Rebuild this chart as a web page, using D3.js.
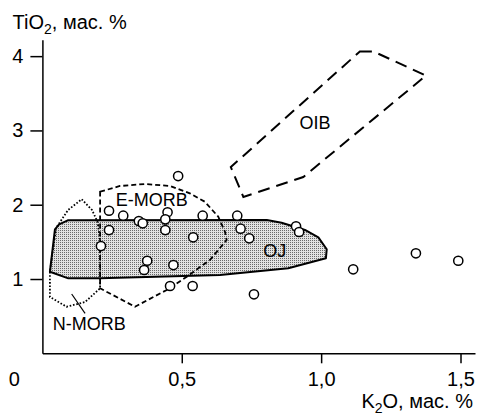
<!DOCTYPE html>
<html><head><meta charset="utf-8">
<script src="https://cdn.jsdelivr.net/npm/d3@7"></script>
<style>body{margin:0;background:#fff}svg{display:block}text{font-family:"Liberation Sans",Arial,sans-serif;fill:#000}</style>
</head><body><svg id="c" width="477" height="417"></svg>
<script>
// Sample points: K2O (x), TiO2 (y), wt.%
const pointsK2O = [0.487,0.239,0.290,0.346,0.360,0.449,0.441,0.441,0.575,0.239,0.210,0.541,0.376,0.365,0.470,0.458,0.539,0.699,0.711,0.742,0.910,0.921,1.115,1.340,1.492,0.759];
const pointsTiO2 = [2.386,1.919,1.852,1.781,1.750,1.898,1.803,1.659,1.852,1.659,1.444,1.561,1.246,1.121,1.188,0.906,0.906,1.852,1.677,1.548,1.709,1.633,1.131,1.346,1.246,0.794];

// Field outlines
const ojK2O  = [0.091,0.805,0.858,0.942,0.990,1.020,1.017,0.882,0.637,0.207,0.093,0.027,0.045,0.060];
const ojTiO2 = [1.790,1.794,1.758,1.660,1.561,1.400,1.279,1.144,1.054,1.009,1.009,1.098,1.669,1.735];
const emorbK2O  = [0.207,0.278,0.368,0.458,0.529,0.583,0.631,0.655,0.661,0.601,0.518,0.446,0.332,0.207];
const emorbTiO2 = [2.175,2.252,2.279,2.252,2.153,2.040,1.838,1.637,1.525,1.256,1.031,0.852,0.627,0.875];
const nmorbK2O  = [0.141,0.178,0.198,0.207,0.207,0.153,0.087,0.027,0.027,0.049,0.092];
const nmorbTiO2 = [2.073,1.929,1.767,1.525,0.875,0.690,0.627,0.758,1.094,1.686,1.929];
const oibK2O  = [1.139,1.187,1.376,0.936,0.721,0.676];
const oibTiO2 = [4.064,4.064,3.738,2.373,2.105,2.507];

// Field labels
const fieldNames = ["OIB","OJ","E-MORB","N-MORB"];
const fieldLabelK2O = [0.978,0.834,0.392,0.168];
const fieldLabelTiO2 = [3.096,1.377,2.063,0.392];
const leaderK2O = [0.105,0.153];
const leaderTiO2 = [0.798,0.538];

const xTicks = [0.5,1.0,1.5];
const yTicks = [1,2,3,4];
const xTitle = ["K","2","O, мас. %"];
const yTitle = ["TiO","2",", мас. %"];
const originLabel = "0";

const svg = d3.select("#c");
const x = d3.scaleLinear().domain([0,1.552]).range([42.4,475]);
const y = d3.scaleLinear().domain([0,4.22]).range([353.3,39.8]);

const defs = svg.append("defs");
const pat = defs.append("pattern").attr("id","stip").attr("patternUnits","userSpaceOnUse").attr("width",2).attr("height",2);
pat.append("rect").attr("width",2).attr("height",2).attr("fill","#e2e2e2");
pat.append("rect").attr("x",0).attr("y",0).attr("width",1).attr("height",1).attr("fill","#6a6a6a");

const line = d3.line().x(d=>x(d[0])).y(d=>y(d[1]));
const zip = (a,b)=>a.map((v,i)=>[v,b[i]]);
const closed = (a,b)=>line(zip(a,b))+"Z";

// OJ field
svg.append("path").attr("d",closed(ojK2O,ojTiO2)).attr("fill","url(#stip)").attr("stroke","#000").attr("stroke-width",2).attr("stroke-linejoin","round");
// E-MORB
svg.append("path").attr("d",closed(emorbK2O,emorbTiO2)).attr("fill","none").attr("stroke","#000").attr("stroke-width",1.8).attr("stroke-dasharray","5,3");
// N-MORB
svg.append("path").attr("d",closed(nmorbK2O,nmorbTiO2)).attr("fill","none").attr("stroke","#000").attr("stroke-width",1.8).attr("stroke-dasharray","1.6,1.8");
// OIB
svg.append("path").attr("d",closed(oibK2O,oibTiO2)).attr("fill","none").attr("stroke","#000").attr("stroke-width",2).attr("stroke-dasharray","12,7");

// leader
svg.append("line").attr("x1",x(leaderK2O[0])).attr("y1",y(leaderTiO2[0])).attr("x2",x(leaderK2O[1])).attr("y2",y(leaderTiO2[1])).attr("stroke","#000").attr("stroke-width",1.2);

// points
svg.append("g").selectAll("circle").data(zip(pointsK2O,pointsTiO2)).join("circle")
  .attr("cx",d=>x(d[0])).attr("cy",d=>y(d[1])).attr("r",4.6)
  .attr("fill","#fff").attr("stroke","#000").attr("stroke-width",1.5);

// field labels
svg.append("g").selectAll("text").data(fieldNames).join("text")
  .attr("x",(d,i)=>x(fieldLabelK2O[i])).attr("y",(d,i)=>y(fieldLabelTiO2[i]))
  .attr("text-anchor","middle").attr("dominant-baseline","central")
  .attr("font-size",18).text(d=>d);

// axes
const xAxis = d3.axisBottom(x).tickValues(xTicks).tickSize(10).tickSizeOuter(0).tickPadding(9)
  .tickFormat(d=>d3.format(".1f")(d).replace(".",","));
const gx = svg.append("g").attr("transform","translate(0,353.3)").call(xAxis);
const yAxis = d3.axisLeft(y).tickValues(yTicks).tickSize(12).tickSizeOuter(0).tickPadding(7).tickFormat(d3.format("d"));
const gy = svg.append("g").attr("transform","translate(42.4,0)").call(yAxis);
[gx,gy].forEach(g=>{
  g.selectAll("path,line").attr("stroke","#000").attr("stroke-width",1.5);
  g.selectAll("text").attr("font-size",20).attr("font-family","Liberation Sans, Arial, sans-serif").attr("fill","#000");
});

svg.append("text").attr("x",x(0)-28).attr("y",386).attr("text-anchor","middle").attr("font-size",20).text(originLabel);

// titles
const yt = svg.append("text").attr("x",12.5).attr("y",28.5).attr("font-size",20);
yt.append("tspan").text(yTitle[0]);
yt.append("tspan").attr("font-size",14).attr("dy",5).text(yTitle[1]);
yt.append("tspan").attr("dy",-5).text(yTitle[2]);
const xt = svg.append("text").attr("x",473).attr("y",408).attr("text-anchor","end").attr("font-size",20);
xt.append("tspan").text(xTitle[0]);
xt.append("tspan").attr("font-size",14).attr("dy",5).text(xTitle[1]);
xt.append("tspan").attr("dy",-5).text(xTitle[2]);
</script></body></html>
